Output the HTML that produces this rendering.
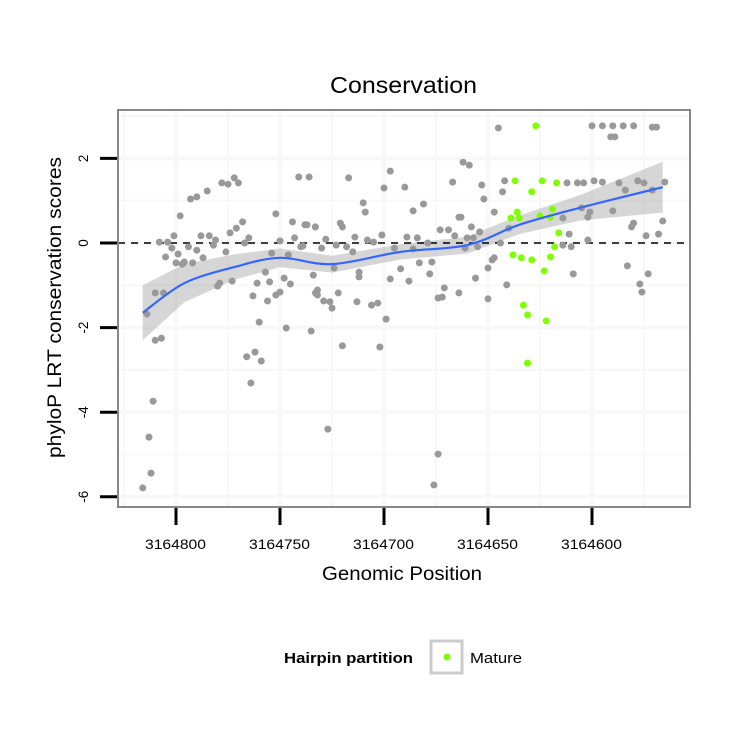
<!DOCTYPE html>
<html><head><meta charset="utf-8"><style>
body{margin:0;background:#fff;}
svg text{font-family:"Liberation Sans",sans-serif;}
</style></head><body>
<svg id="chart" width="750" height="750" xmlns="http://www.w3.org/2000/svg">
<rect width="750" height="750" fill="#fff"/>
<text x="330" y="93" font-size="23" textLength="147" lengthAdjust="spacingAndGlyphs">Conservation</text>
<g id="grid"></g>
<g id="band"></g>
<line x1="118" x2="690" y1="243" y2="243" stroke="#000" stroke-width="1.5" stroke-dasharray="7,6"/>
<g id="pts"></g>
<g id="trend"></g>
<rect x="118" y="110" width="572" height="397" fill="none" stroke="#888" stroke-width="2"/>
<g id="axes"></g>
<text transform="translate(61,458) rotate(-90)" font-size="19" textLength="301" lengthAdjust="spacingAndGlyphs">phyloP LRT conservation scores</text>
<text x="322" y="580" font-size="19" textLength="160" lengthAdjust="spacingAndGlyphs">Genomic Position</text>
<g>
<text x="284" y="663" font-size="15" font-weight="bold" textLength="129" lengthAdjust="spacingAndGlyphs">Hairpin partition</text>
<rect x="431" y="641" width="31" height="32" fill="#fff" stroke="#ccc" stroke-width="3"/>
<circle cx="447" cy="657" r="3.5" fill="#7fff00"/>
<text x="470" y="663" font-size="15" textLength="52" lengthAdjust="spacingAndGlyphs">Mature</text>
</g>
</svg>
<script>
const grayPos=[3164816,3164812,3164813,3164811,3164810,3164807,3164814,3164810,3164806,3164808,3164804,3164801,3164805,3164802,3164799,3164800,3164797,3164796,3164794,3164792,3164790,3164787,3164798,3164793,3164790,3164785,3164778,3164775,3164772,3164770,3164788,3164784,3164781,3164782,3164776,3164774,3164771,3164768,3164765,3164767,3164780,3164779,3164773,3164752,3164744,3164738,3164733,3164750,3164743,3164740,3164754,3164746,3164734,3164757,3164761,3164755,3164748,3164745,3164763,3164756,3164752,3164750,3164733,3164760,3164747,3164735,3164766,3164762,3164759,3164764,3164741,3164736,3164717,3164697,3164700,3164690,3164710,3164709,3164686,3164681,3164737,3164733,3164721,3164720,3164739,3164730,3164728,3164723,3164718,3164715,3164714,3164708,3164705,3164701,3164695,3164689,3164684,3164686,3164679,3164724,3164712,3164712,3164697,3164692,3164688,3164683,3164677,3164678,3164732,3164732,3164729,3164726,3164725,3164722,3164713,3164706,3164703,3164699,3164720,3164702,3164727,3164674,3164676,3164673,3164669,3164666,3164664,3164663,3164658,3164654,3164660,3164657,3164661,3164655,3164667,3164662,3164659,3164653,3164652,3164647,3164645,3164674,3164672,3164671,3164664,3164650,3164656,3164650,3164648,3164647,3164642,3164643,3164640,3164644,3164641,3164600,3164595,3164590,3164585,3164580,3164571,3164569,3164591,3164589,3164612,3164607,3164604,3164599,3164595,3164587,3164584,3164578,3164575,3164571,3164565,3164605,3164601,3164602,3164614,3164590,3164581,3164580,3164566,3164611,3164602,3164574,3164568,3164614,3164610,3164583,3164609,3164573,3164577,3164576];
const grayScore=[-5.79,-5.44,-4.59,-3.74,-2.30,-2.25,-1.68,-1.18,-1.18,0.02,0.02,0.17,-0.33,-0.12,-0.26,-0.47,-0.50,-0.45,-0.09,-0.47,-0.17,-0.35,0.64,1.04,1.09,1.23,1.42,1.39,1.54,1.42,0.17,0.17,0.07,-0.05,-0.21,0.24,0.35,0.50,0.12,0,-1.02,-0.95,-0.90,0.69,0.50,0.43,0.38,0.05,0.12,-0.09,-0.24,-0.28,-0.76,-0.69,-0.95,-0.92,-0.83,-0.97,-1.25,-1.37,-1.23,-1.16,-1.18,-1.87,-2.01,-2.08,-2.69,-2.58,-2.79,-3.31,1.56,1.56,1.54,1.70,1.30,1.32,0.95,0.73,0.76,0.92,0.43,0.38,0.47,0.38,-0.07,-0.12,0.09,-0.05,-0.09,-0.21,0.14,0.07,0.02,0.19,-0.12,0.14,0.12,-0.14,0,-0.59,-0.69,-0.80,-0.85,-0.61,-0.90,-0.47,-0.45,-0.73,-1.11,-1.23,-1.37,-1.39,-1.54,-1.18,-1.39,-1.47,-1.42,-1.80,-2.43,-2.46,-4.40,-4.99,-5.72,0.31,0.31,0.17,0.61,0.61,0.38,0.26,0.12,0.12,-0.12,-0.09,1.44,1.91,1.84,1.37,1.04,0.73,2.72,-1.30,-1.28,-1.06,-1.18,-1.32,-0.83,-0.59,-0.40,-0.35,1.47,1.21,0.35,0,-0.99,2.77,2.77,2.77,2.77,2.77,2.74,2.74,2.51,2.51,1.42,1.42,1.42,1.47,1.44,1.42,1.25,1.47,1.42,1.25,1.44,0.83,0.73,0.61,0.59,0.76,0.38,0.47,0.52,0.21,0.07,0.17,0.21,-0.05,-0.09,-0.54,-0.73,-0.73,-0.97,-1.16];
const maturePos=[3164627,3164637,3164624,3164617,3164629,3164636,3164639,3164635,3164625,3164620,3164619,3164616,3164618,3164638,3164634,3164629,3164620,3164623,3164633,3164631,3164622,3164631];
const matureScore=[2.77,1.47,1.47,1.42,1.21,0.73,0.59,0.59,0.64,0.61,0.80,0.24,-0.09,-0.28,-0.35,-0.40,-0.33,-0.66,-1.47,-1.70,-1.84,-2.84];
const fitPos=[3164816,3164796,3164772,3164750,3164725,3164692,3164660,3164635,3164606,3164566];
const fitScore=[-1.65,-0.95,-0.57,-0.35,-0.50,-0.21,-0.05,0.43,0.83,1.32];
const fitSe=[0.65,0.45,0.30,0.22,0.20,0.18,0.20,0.22,0.30,0.60];
const xTicks=[3164800,3164750,3164700,3164650,3164600];
const yTicks=[2,0,-2,-4,-6];
const NS='http://www.w3.org/2000/svg';
function X(v){return 176+(3164800-v)*2.08;}
function Y(v){return 243-v*42.3;}
function mk(t,a,p){const e=document.createElementNS(NS,t);for(const k in a)e.setAttribute(k,a[k]);p.appendChild(e);return e;}
const grid=document.getElementById('grid');
mk('rect',{x:118,y:110,width:572,height:397,fill:'#fff'},grid);
for(let v=3164825;v>=3164550;v-=25){const x=X(v);if(x<118||x>690)continue;
const l=mk('line',{x1:x,x2:x,y1:110,y2:507,stroke:'#f8f8f8','stroke-width':(v%50===0)?4:2},grid);

}
for(let v=3;v>=-7;v-=1){const y=Y(v);if(y<110||y>507)continue;
const l=mk('line',{x1:118,x2:690,y1:y,y2:y,stroke:'#f8f8f8','stroke-width':(v%2===0)?4:2},grid);

}
let up='',dn='';
fitPos.forEach((p,i)=>{up+=(i?'L':'M')+X(p)+','+Y(fitScore[i]+fitSe[i]);});
for(let i=fitPos.length-1;i>=0;i--)dn+='L'+X(fitPos[i])+','+Y(fitScore[i]-fitSe[i]);
mk('path',{d:up+dn+'Z',fill:'#999','fill-opacity':0.4},document.getElementById('band'));
const pts=document.getElementById('pts');
grayPos.forEach((p,i)=>{const c=mk('circle',{cx:X(p),cy:Y(grayScore[i]),r:3.5,fill:'#999'},pts);

});
maturePos.forEach((p,i)=>{const c=mk('circle',{cx:X(p),cy:Y(matureScore[i]),r:3.5,fill:'#7fff00'},pts);

});
const P=fitPos.map((p,i)=>[X(p),Y(fitScore[i])]);
let d='M'+P[0][0]+','+P[0][1];
for(let i=0;i<P.length-1;i++){const p0=P[Math.max(0,i-1)],p1=P[i],p2=P[i+1],p3=P[Math.min(P.length-1,i+2)];
d+='C'+(p1[0]+(p2[0]-p0[0])/6)+','+(p1[1]+(p2[1]-p0[1])/6)+' '+(p2[0]-(p3[0]-p1[0])/6)+','+(p2[1]-(p3[1]-p1[1])/6)+' '+p2[0]+','+p2[1];}
mk('path',{d:d,fill:'none',stroke:'#3366ff','stroke-width':2.2},document.getElementById('trend'));
const ax=document.getElementById('axes');
xTicks.forEach(v=>{const x=X(v);
const t=mk('line',{x1:x,x2:x,y1:508,y2:525,stroke:'#000','stroke-width':3},ax);


const s=mk('text',{x:x-31,y:549,'font-size':14,textLength:61,lengthAdjust:'spacingAndGlyphs'},ax);s.textContent=v;

});
yTicks.forEach(v=>{const y=Y(v);
const t=mk('line',{x1:100,x2:117,y1:y,y2:y,stroke:'#000','stroke-width':3},ax);


const s=mk('text',{transform:'translate(88,'+y+') rotate(-90)','text-anchor':'middle','font-size':13.5},ax);s.textContent=v;

});
</script>
</body></html>
